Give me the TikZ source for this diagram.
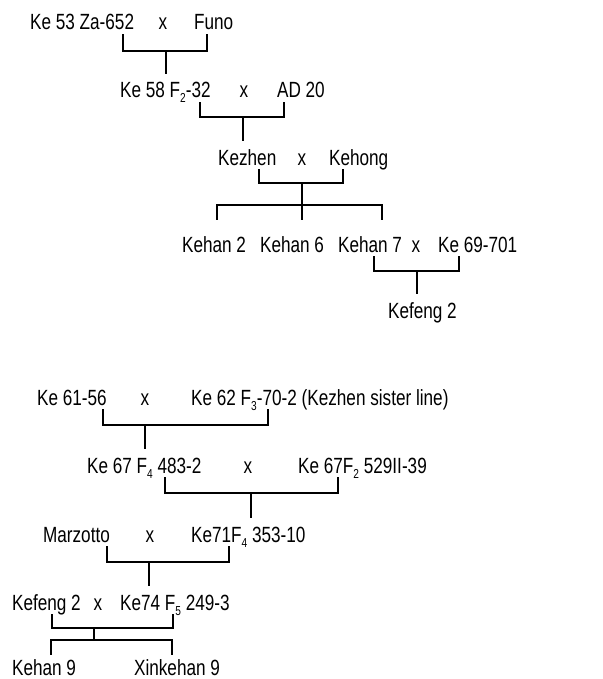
\documentclass[tikz,border=0pt]{standalone}
\usepackage{fontspec}
\setmainfont[FakeStretch=0.78]{Liberation Sans}
\newcommand{\gen}[1]{\raisebox{-5pt}{\fontsize{13}{13}\selectfont #1}}
\begin{document}
\begin{tikzpicture}[x=1pt, y=-1pt, line width=2.2pt,
  sort/.style={inner sep=0pt, text height=23pt, text depth=3pt, anchor=base west, font=\fontsize{22}{26}\selectfont},
  cross/.style={sort, anchor=base}]
\useasboundingbox (0,0) rectangle (602,679);
% Kezhen line
\node[sort] (a1) at (29,30) {Ke 53 Za-652};
\node[cross] (xa) at (163,30) {x};
\node[sort] (a2) at (193,30) {Funo};
\node[sort] (b1) at (119,98) {Ke 58 F\gen{2}-32};
\node[cross] (xb) at (244,98) {x};
\node[sort] (b2) at (276,98) {AD 20};
\node[sort] (c1) at (217,165) {Kezhen};
\node[cross] (xc) at (302,165) {x};
\node[sort] (c2) at (328,165) {Kehong};
\node[sort, text height=31pt] (d1) at (181,252) {Kehan 2};
\node[sort, text height=31pt] (d2) at (259,252) {Kehan 6};
\node[sort, text height=31pt] (d3) at (337,252) {Kehan 7};
\node[cross] (xd) at (416,252) {x};
\node[sort] (d4) at (437,252) {Ke 69-701};
\node[sort] (e1) at (387,318) {Kefeng 2};
\coordinate (m1) at (166,51);
\coordinate (m2) at (243,117);
\coordinate (m3) at (302,183);
\coordinate (m4) at (302,205);
\coordinate (m5) at (417,271);
\draw (123,0 |- a1.south) |- (m1) -| (207,0 |- a2.south);
\draw (m1) -- (m1 |- b1.north);
\draw (200,0 |- b1.south) |- (m2) -| (284,0 |- b2.south);
\draw (m2) -- (m2 |- c1.north);
\draw (259,0 |- c1.south) |- (m3) -| (343,0 |- c2.south);
\draw (m3) -- (m4);
\draw (217,0 |- d1.north) |- (m4) -| (382,0 |- d3.north);
\draw (m4) -- (m4 |- d2.north);
\draw (374,0 |- d3.south) |- (m5) -| (459,0 |- d4.south);
\draw (m5) -- (m5 |- e1.north);
% Kehan 9 line
\node[sort] (p1) at (36,405) {Ke 61-56};
\node[cross] (xp) at (145,405) {x};
\node[sort] (p2) at (190,405) {Ke 62 F\gen{3}-70-2 (Kezhen sister line)};
\node[sort] (q1) at (86,473) {Ke 67 F\gen{4} 483-2};
\node[cross] (xq) at (248,473) {x};
\node[sort] (q2) at (297,473) {Ke 67F\gen{2} 529II-39};
\node[sort] (r1) at (42,542) {Marzotto};
\node[cross] (xr) at (150,542) {x};
\node[sort] (r2) at (190,542) {Ke71F\gen{4} 353-10};
\node[sort] (s1) at (11,610) {Kefeng 2};
\node[cross] (xs) at (98,610) {x};
\node[sort] (s2) at (119,610) {Ke74 F\gen{5} 249-3};
\node[sort, text height=19pt, text depth=1pt] (t1) at (11,675) {Kehan 9};
\node[sort, text height=19pt, text depth=1pt] (t2) at (133,675) {Xinkehan 9};
\coordinate (n1) at (145,425);
\coordinate (n2) at (251,493);
\coordinate (n3) at (149,562);
\coordinate (n4) at (94,628);
\coordinate (n5) at (94,640);
\draw (103,0 |- p1.south) |- (n1) -| (268,0 |- p2.south);
\draw (n1) -- (n1 |- q1.north);
\draw (165,0 |- q1.south) |- (n2) -| (338,0 |- q2.south);
\draw (n2) -- (n2 |- r1.north);
\draw (107,0 |- r1.south) |- (n3) -| (229,0 |- r2.south);
\draw (n3) -- (n3 |- s1.north);
\draw (52,0 |- s1.south) |- (n4) -| (173,0 |- s2.south);
\draw (n4) -- (n5);
\draw (51,0 |- t1.north) |- (n5) -| (172,0 |- t2.north);
\end{tikzpicture}
\end{document}
